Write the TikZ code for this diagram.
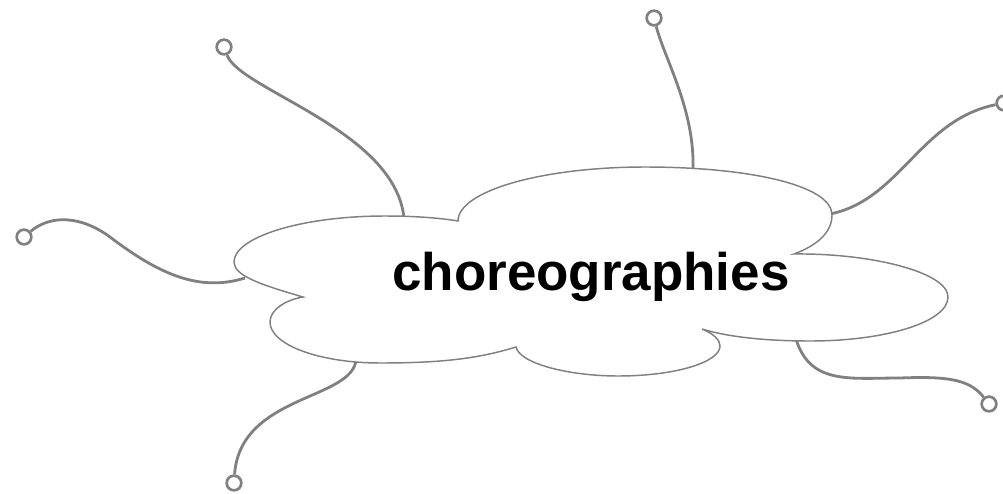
\documentclass[tikz,border=0pt]{standalone}
\usepackage{fontspec}
\setmainfont{Liberation Sans}
\begin{document}
\begin{tikzpicture}[x=0.75pt,y=-0.75pt,
  cloudline/.style={draw=black!50,line width=1.1pt,fill=white},
  branch/.style={draw=black!50,line width=2.1pt},
  knob/.style={circle,draw=black!50,line width=2pt,fill=white,inner sep=0pt,minimum size=11pt}]
\useasboundingbox (0,0) rectangle (1003,493);
% connectors first (behind cloud)
\coordinate (a1) at (404,218);
\coordinate (a2) at (693,170);
\coordinate (a3) at (830,214);
\coordinate (a4) at (245,278);
\coordinate (a5) at (356,360);
\coordinate (a6) at (796,339);
\coordinate (m4) at (110,237);
\coordinate (m6) at (900,378);
\node[knob] (k1) at (224,47) {};
\node[knob] (k2) at (654,18) {};
\node[knob] (k3) at (1004,103) {};
\node[knob] (k4) at (24,237) {};
\node[knob] (k5) at (234,483) {};
\node[knob] (k6) at (989,404) {};
\draw[branch] (k1) .. controls (240,90) and (395,130) .. (a1);
\draw[branch] (k2) .. controls (665,60) and (695,110) .. (a2);
\draw[branch] (a3) .. controls (900,200) and (920,120) .. (k3);
\draw[branch] (k4) .. controls (50,215) and (80,215) .. (m4) .. controls (160,275) and (200,292) .. (a4);
\draw[branch] (a5) .. controls (352,400) and (240,395) .. (k5);
\draw[branch] (a6) .. controls (810,385) and (850,378) .. (m6) .. controls (950,376) and (970,380) .. (k6);
% cloud
\path[cloudline] (303,297)
  .. controls (262,285) and (234,276) .. (234,262)
  .. controls (234,237) and (302,216) .. (385,216)
  .. controls (415,216) and (440,218) .. (458,221)
  .. controls (458,191) and (542,167) .. (645,167)
  .. controls (748,167) and (832,185) .. (832,215)
  .. controls (832,232) and (818,245) .. (794,254)
  .. controls (870,253) and (948,272) .. (948,297)
  .. controls (948,322) and (886,341) .. (810,341)
  .. controls (760,341) and (725,336) .. (702,329)
  .. controls (714,334) and (720,340) .. (720,346)
  .. controls (720,362) and (676,376) .. (618,376)
  .. controls (570,376) and (520,364) .. (516,347)
  .. controls (480,358) and (445,363) .. (380,363)
  .. controls (320,363) and (270,345) .. (270,322)
  .. controls (270,310) and (285,300) .. (303,297) -- cycle;
\node[anchor=base,inner sep=0pt,font=\fontsize{39.7}{40}\selectfont\bfseries] (t) at (591,290) {choreographies};
\end{tikzpicture}
\end{document}
